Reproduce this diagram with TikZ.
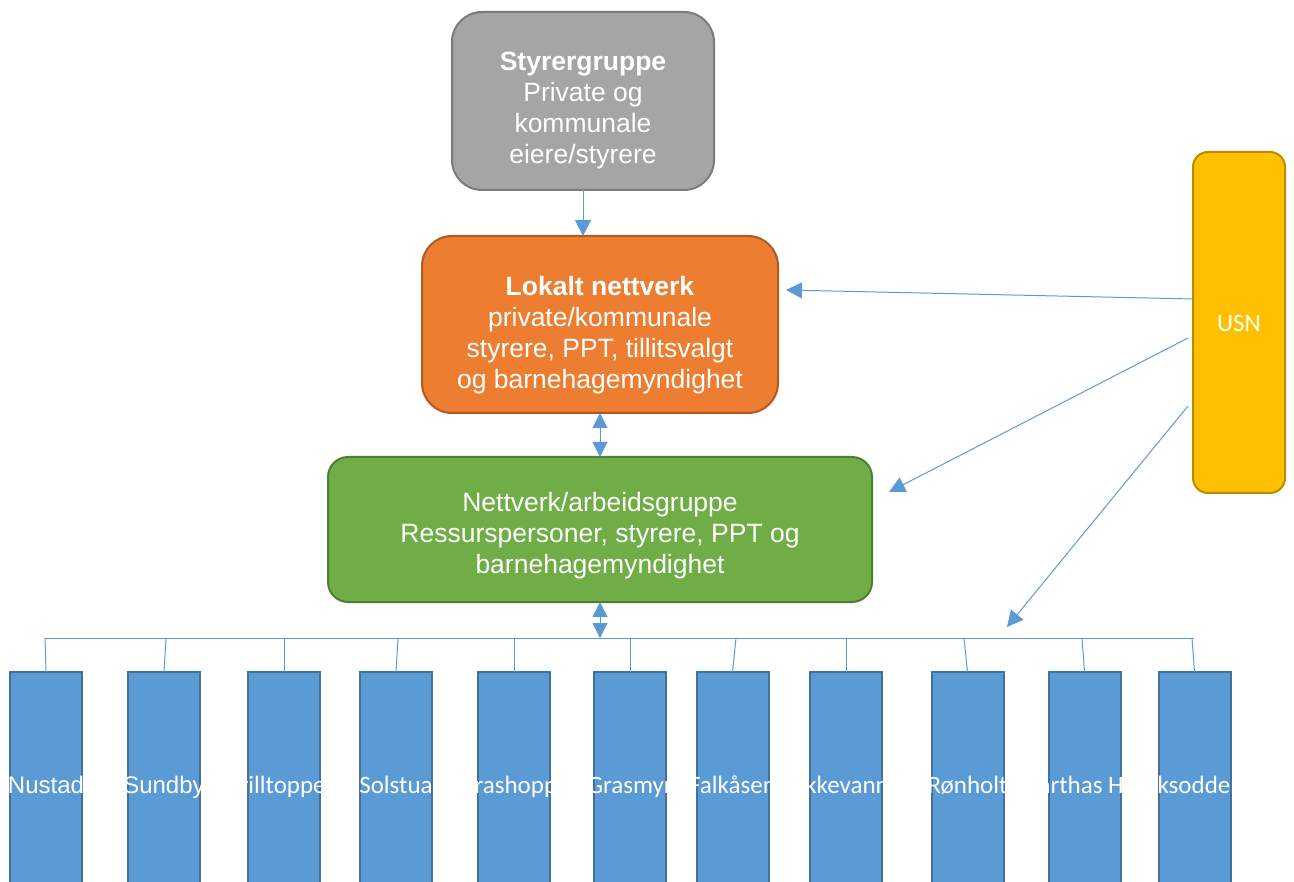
\documentclass[tikz,border=0pt]{standalone}
\usepackage{fontspec}
\setmainfont{Liberation Sans}
\newfontfamily\calfont{Carlito}
\usetikzlibrary{arrows.meta}
\definecolor{grayfill}{HTML}{A5A5A5}
\definecolor{graydraw}{HTML}{7B7B7B}
\definecolor{orfill}{HTML}{ED7D31}
\definecolor{ordraw}{HTML}{AE5A21}
\definecolor{grfill}{HTML}{70AD47}
\definecolor{grdraw}{HTML}{507E32}
\definecolor{yefill}{HTML}{FFC000}
\definecolor{yedraw}{HTML}{BC8C00}
\definecolor{blfill}{HTML}{5B9BD5}
\definecolor{bldraw}{HTML}{41719C}
\definecolor{conn}{HTML}{5B9BD5}
\newcommand\barnehage[4]{%
  \node[kbox] (b#1) at (#2,672) {};
  \begin{scope}
    \clip (#2-39,672) rectangle (#2+39,882);
    \node[klabel,font=#4] (l#1) at (#2,793) {#3};
  \end{scope}}
\begin{document}
\begin{tikzpicture}[x=1pt,y=-1pt,
  box/.style={draw, line width=2pt, inner sep=0pt, outer sep=0pt},
  maintext/.style={text=white, align=center, inner sep=0pt, font=\fontsize{26.5}{31}\selectfont},
  kbox/.style={box, draw=bldraw, fill=blfill, minimum width=72pt, minimum height=240pt, anchor=north},
  klabel/.style={text=white, anchor=base, inner sep=0pt},
  conline/.style={draw=conn, line width=1pt},
  arr/.style={conline, -{Triangle[length=16pt,width=16pt]}},
  darr/.style={conline, {Triangle[length=15pt,width=15pt]}-{Triangle[length=15pt,width=15pt]}},
]
\clip (0,0) rectangle (1294,882);
\fill[white] (0,0) rectangle (1294,882);

% main boxes
\node[box, draw=graydraw, fill=grayfill, rounded corners=30pt, minimum width=262pt, minimum height=178pt] (gray) at (583,101) {};
\node[maintext] (graytxt) at (583,111) {\textbf{Styrergruppe}\\Private og\\kommunale\\eiere/styrere};

\node[box, draw=ordraw, fill=orfill, rounded corners=30pt, minimum width=356pt, minimum height=177pt] (orange) at (600,324.5) {};
\node[maintext] (ortxt) at (600,335) {\textbf{Lokalt nettverk}\\private/kommunale\\styrere, PPT, tillitsvalgt\\og barnehagemyndighet};

\node[box, draw=grdraw, fill=grfill, rounded corners=20pt, minimum width=544pt, minimum height=145pt] (green) at (600,529.5) {};
\node[maintext] (grtxt) at (600,536) {Nettverk/arbeidsgruppe\\Ressurspersoner, styrere, PPT og\\barnehagemyndighet};

\node[box, draw=yedraw, fill=yefill, rounded corners=15pt, minimum width=92pt, minimum height=341pt] (usn) at (1239,322.5) {};
\node[text=white, font=\calfont\fontsize{25}{30}\selectfont, inner sep=0pt] (usntxt) at (1239,323) {USN};

% kindergartens
\barnehage{1}{46}{Nustad}{\fontsize{24}{29}\selectfont}
\barnehage{2}{164}{Sundby}{\fontsize{24}{29}\selectfont}
\barnehage{3}{284}{Trilltoppen}{\calfont\fontsize{25}{30}\selectfont}
\barnehage{4}{396}{Solstua}{\calfont\fontsize{25}{30}\selectfont}
\barnehage{5}{514}{Grashoppa}{\calfont\fontsize{25}{30}\selectfont}
\barnehage{6}{630}{Grasmyr}{\calfont\fontsize{25}{30}\selectfont}
\barnehage{7}{732.5}{Falkåsen}{\calfont\fontsize{25}{30}\selectfont}
\barnehage{8}{846}{\hspace*{2pt}kkevann}{\calfont\fontsize{25}{30}\selectfont}
\barnehage{9}{967.5}{Rønholt}{\calfont\fontsize{25}{30}\selectfont}
\barnehage{10}{1084.5}{\hspace*{8pt}Marthas Hage}{\calfont\fontsize{25}{30}\selectfont}
\barnehage{11}{1194.5}{\hspace*{12pt}ksodden}{\calfont\fontsize{25}{30}\selectfont}

% bus line
\coordinate (busL) at (45,638);
\coordinate (busR) at (1194,638);
\coordinate (busM) at (600,638);
\draw[conline] (busL) -- (busR);
\foreach \i/\x in {1/45,2/166,3/284,4/398,5/514,6/630,7/736,8/846,9/964,10/1082,11/1192}{
  \coordinate (t\i) at (\x,638);
  \draw[conline] (t\i) -- (b\i.north);
}

% arrows
\draw[arr] (gray.south) -- (gray.south |- orange.north);
\draw[darr] (orange.south) -- (green.north);
\draw[darr] (green.south) -- (busM);

\coordinate (u1) at (1193,299);
\coordinate (u2) at (1188,338);
\coordinate (u3) at (1188,406);
\coordinate (e1) at (786,290);
\coordinate (e2) at (889,492);
\coordinate (e3) at (1007,627);
\draw[arr] (u1) -- (e1);
\draw[arr] (u2) -- (e2);
\draw[arr] (u3) -- (e3);
\end{tikzpicture}
\end{document}
